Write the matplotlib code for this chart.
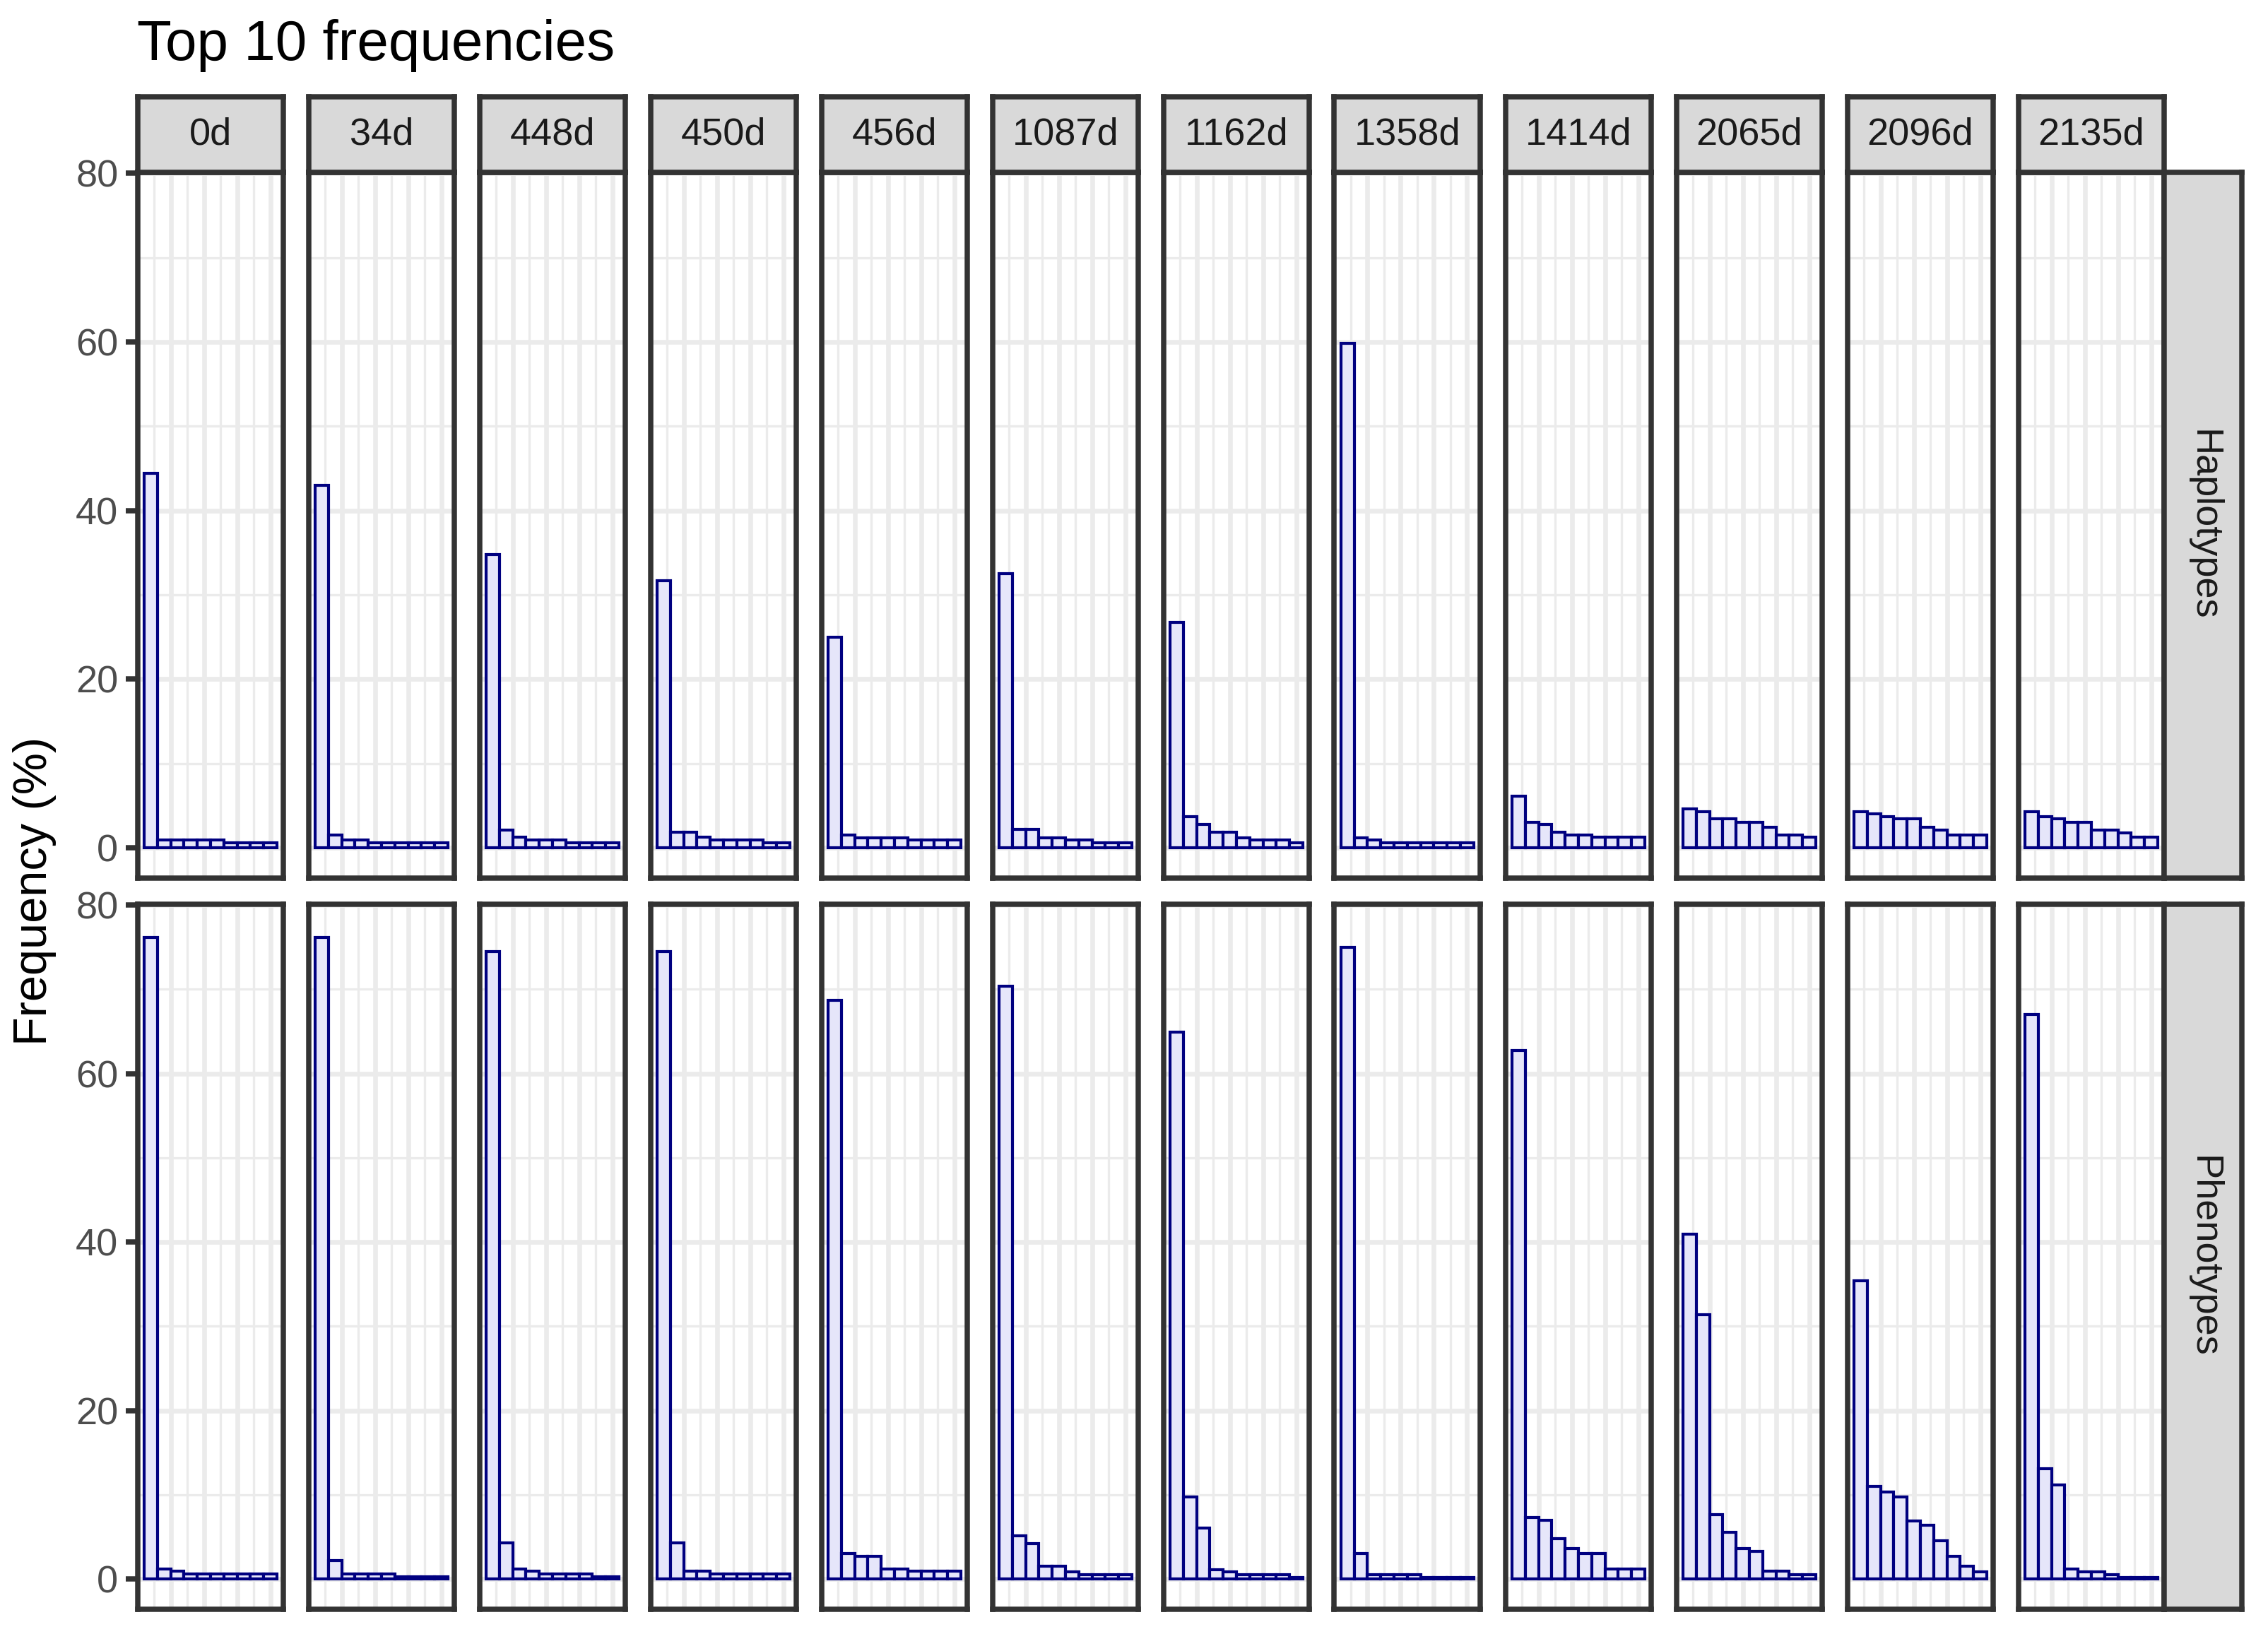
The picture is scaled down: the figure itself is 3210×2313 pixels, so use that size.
import matplotlib
matplotlib.use("Agg")
import matplotlib.pyplot as plt
import numpy as np

plt.rcParams['font.family'] = ['Liberation Sans', 'DejaVu Sans']

days = ['0d', '34d', '448d', '450d', '456d', '1087d', '1162d', '1358d',
        '1414d', '2065d', '2096d', '2135d']
rows = ['Haplotypes', 'Phenotypes']

# top 10 frequencies (%) per sample, haplotypes
hap_0d = [44.4, 0.95, 0.95, 0.95, 0.95, 0.95, 0.6, 0.6, 0.6, 0.6]
hap_34d = [43.0, 1.5, 0.95, 0.95, 0.6, 0.6, 0.6, 0.6, 0.6, 0.6]
hap_448d = [34.8, 2.1, 1.25, 0.95, 0.95, 0.95, 0.6, 0.6, 0.6, 0.6]
hap_450d = [31.7, 1.85, 1.85, 1.25, 0.95, 0.95, 0.95, 0.95, 0.6, 0.6]
hap_456d = [25.0, 1.5, 1.2, 1.2, 1.2, 1.2, 0.93, 0.93, 0.93, 0.93]
hap_1087d = [32.5, 2.2, 2.2, 1.2, 1.2, 0.93, 0.93, 0.6, 0.6, 0.6]
hap_1162d = [26.7, 3.7, 2.8, 1.85, 1.85, 1.2, 0.93, 0.93, 0.93, 0.6]
hap_1358d = [59.8, 1.2, 0.93, 0.6, 0.6, 0.6, 0.6, 0.6, 0.6, 0.6]
hap_1414d = [6.1, 3.0, 2.75, 1.85, 1.5, 1.5, 1.25, 1.25, 1.25, 1.25]
hap_2065d = [4.6, 4.3, 3.4, 3.4, 3.05, 3.05, 2.4, 1.5, 1.5, 1.25]
hap_2096d = [4.3, 4.0, 3.65, 3.4, 3.4, 2.4, 2.1, 1.5, 1.5, 1.5]
hap_2135d = [4.3, 3.65, 3.4, 3.05, 3.05, 2.1, 2.1, 1.8, 1.25, 1.25]

# phenotypes
phe_0d = [76.2, 1.2, 0.92, 0.6, 0.6, 0.6, 0.6, 0.6, 0.6, 0.6]
phe_34d = [76.2, 2.15, 0.6, 0.6, 0.6, 0.6, 0.25, 0.25, 0.25, 0.25]
phe_448d = [74.5, 4.3, 1.2, 0.92, 0.6, 0.6, 0.6, 0.6, 0.25, 0.25]
phe_450d = [74.5, 4.3, 0.92, 0.92, 0.6, 0.6, 0.6, 0.6, 0.6, 0.6]
phe_456d = [68.7, 3.0, 2.7, 2.7, 1.2, 1.2, 0.9, 0.9, 0.9, 0.9]
phe_1087d = [70.4, 5.1, 4.2, 1.5, 1.5, 0.85, 0.5, 0.5, 0.5, 0.5]
phe_1162d = [64.9, 9.7, 6.05, 1.1, 0.85, 0.5, 0.5, 0.5, 0.5, 0.2]
phe_1358d = [75.0, 3.0, 0.5, 0.5, 0.5, 0.5, 0.2, 0.2, 0.2, 0.2]
phe_1414d = [62.7, 7.3, 7.0, 4.8, 3.6, 3.0, 3.0, 1.2, 1.2, 1.2]
phe_2065d = [40.9, 31.4, 7.6, 5.5, 3.6, 3.3, 0.9, 0.9, 0.55, 0.55]
phe_2096d = [35.4, 11.0, 10.3, 9.75, 6.9, 6.35, 4.5, 2.7, 1.5, 0.85]
phe_2135d = [67.0, 13.1, 11.2, 1.15, 0.85, 0.85, 0.5, 0.2, 0.2, 0.2]

hap = [hap_0d, hap_34d, hap_448d, hap_450d, hap_456d, hap_1087d, hap_1162d,
       hap_1358d, hap_1414d, hap_2065d, hap_2096d, hap_2135d]
phe = [phe_0d, phe_34d, phe_448d, phe_450d, phe_456d, phe_1087d, phe_1162d,
       phe_1358d, phe_1414d, phe_2065d, phe_2096d, phe_2135d]
ranks = np.arange(1, 11)

W, H = 3210, 2313
fig = plt.figure(figsize=(W / 300, H / 300), dpi=300)

border = '#333333'
grid_c = '#EBEBEB'
strip_c = '#D9D9D9'
blw = 1.8

x0, pw, step = 194.5, 206.8, 242.0
panel_y = [(244, 1243), (1280, 2278)]
strip_top = (137, 244)
strip_x = (3063, 3173)


def fr(x, y0, y1, w):
    return [x / W, 1 - y1 / H, w / W, (y1 - y0) / H]


def strip_axes(rect, label, rot):
    sx = fig.add_axes(rect)
    sx.set_facecolor(strip_c)
    sx.set_xticks([])
    sx.set_yticks([])
    for s in sx.spines.values():
        s.set_color(border)
        s.set_linewidth(blw)
    sx.text(0.5, 0.5, label, ha='center', va='center', rotation=rot,
            fontsize=13, color='#1A1A1A', transform=sx.transAxes)


for r, data in enumerate([hap, phe]):
    y0, y1 = panel_y[r]
    for c, vals in enumerate(data):
        ax = fig.add_axes(fr(x0 + c * step, y0, y1, pw))
        ax.bar(ranks, vals, width=1, color='#E6E6FA', edgecolor='#000080',
               linewidth=1.0, zorder=3)
        ax.set_xlim(0, 11)
        ax.set_ylim(-3.6, 80.1)
        ax.set_xticks([2.5, 5, 7.5, 10])
        ax.set_xticks([1.25, 3.75, 6.25, 8.75], minor=True)
        ax.set_yticks([0, 20, 40, 60, 80])
        ax.set_yticks([10, 30, 50, 70], minor=True)
        ax.grid(which='major', color=grid_c, linewidth=1.6, zorder=0)
        ax.grid(which='minor', color=grid_c, linewidth=0.8, zorder=0)
        ax.set_axisbelow(True)
        for s in ax.spines.values():
            s.set_color(border)
            s.set_linewidth(blw)
        ax.tick_params(axis='x', which='both', length=0, labelbottom=False)
        ax.tick_params(axis='y', which='minor', length=0)
        if c == 0:
            ax.tick_params(axis='y', which='major', length=4, width=blw,
                           color=border, labelsize=13, labelcolor='#4D4D4D',
                           pad=2.5)
        else:
            ax.tick_params(axis='y', which='major', length=0, labelleft=False)

        if r == 0:
            strip_axes(fr(x0 + c * step, strip_top[0], strip_top[1], pw),
                       days[c], 0)

    strip_axes(fr(strip_x[0], y0, y1, strip_x[1] - strip_x[0]), rows[r], -90)

fig.text(x0 / W, 1 - 64 / H, 'Top 10 frequencies', ha='left', va='center',
         fontsize=19.2, color='black')
fig.text(49 / W, 1 - 1261 / H, 'Frequency (%)', ha='center', va='center',
         rotation=90, fontsize=16, color='black')

fig.savefig('out.png', dpi=300)
